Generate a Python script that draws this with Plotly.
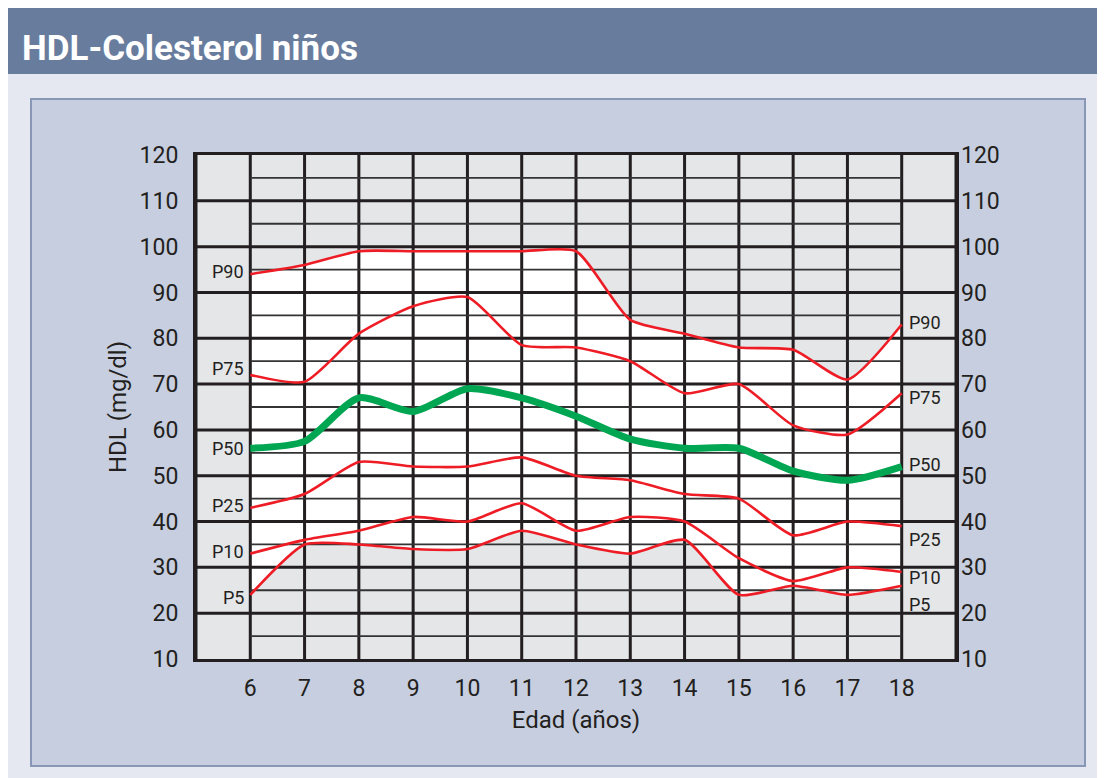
import plotly.graph_objects as go

# Datos: percentiles de HDL-colesterol en niños por edad
edades = [6, 7, 8, 9, 10, 11, 12, 13, 14, 15, 16, 17, 18]
p90 = [94, 96, 99, 99, 99, 99, 99, 84, 81, 78, 77.5, 71, 83]
p75 = [72, 70.5, 81, 87, 89, 78.5, 78, 75, 68, 70, 61, 59, 68]
p50 = [56, 57.5, 67, 64, 69, 67, 63, 58, 56, 56, 51, 49, 52]
p25 = [43, 46, 53, 52, 52, 54, 50, 49, 46, 45, 37, 40, 39]
p10 = [33, 36, 38, 41, 40, 44, 38, 41, 40, 32, 27, 30, 29]
p5 = [24, 35, 35, 34, 34, 38, 35, 33, 36, 24, 26, 24, 26]

nombres = ['P90', 'P75', 'P50', 'P25', 'P10', 'P5']
etiq_izq_y = [94.5, 73.5, 56, 43.5, 33.5, 23.5]
etiq_der_y = [83.5, 67, 52.5, 36, 27.7, 22]

y_ticks = list(range(10, 121, 10))
x_ticks = edades

FUENTE = 'Roboto, Liberation Sans, sans-serif'
ROJO = '#ee1c25'
VERDE = '#00a651'
NEGRO = '#231f20'

# la pagina pone la figura 8 px a la derecha y abajo
OFF = 8
L, R, T, B = 196 - OFF, 956 - OFF, 155 - OFF, 659 - OFF


def px(x):
    return (x - OFF - L) / (R - L)


def py(y):
    return (B - (y - OFF)) / (B - T)


fig = go.Figure()

# zona blanca entre P5 y P90
fig.add_trace(go.Scatter(x=edades, y=p5, mode='lines', line=dict(width=0, shape='spline', smoothing=0.6),
                         hoverinfo='skip', showlegend=False))
fig.add_trace(go.Scatter(x=edades, y=p90, mode='lines', line=dict(width=0, shape='spline', smoothing=0.6),
                         fill='tonexty', fillcolor='white', hoverinfo='skip', showlegend=False))

# cuadricula
xmin, xmax = 5, 19
gx, gy = [], []
for v in range(xmin, xmax + 1):
    gx += [v, v, None]
    gy += [10, 120, None]
for v in y_ticks[1:-1]:
    gx += [xmin, xmax, None]
    gy += [v, v, None]
fig.add_trace(go.Scatter(x=gx, y=gy, mode='lines', line=dict(color=NEGRO, width=3),
                         hoverinfo='skip', showlegend=False))
mx, my = [], []
for v in range(15, 120, 10):
    mx += [edades[0], edades[-1], None]
    my += [v, v, None]
fig.add_trace(go.Scatter(x=mx, y=my, mode='lines', line=dict(color='#333333', width=1.8),
                         hoverinfo='skip', showlegend=False))

# curvas
for nombre, serie in zip(nombres, [p90, p75, p50, p25, p10, p5]):
    if nombre == 'P50':
        continue
    fig.add_trace(go.Scatter(x=edades, y=serie, mode='lines', name=nombre,
                             line=dict(color=ROJO, width=2.6, shape='spline', smoothing=0.6),
                             showlegend=False))
fig.add_trace(go.Scatter(x=edades, y=p50, mode='lines', name='P50',
                         line=dict(color=VERDE, width=7, shape='spline', smoothing=0.7),
                         showlegend=False))
# eje derecho
fig.add_trace(go.Scatter(x=[edades[0]], y=[p50[0]], yaxis='y2', mode='lines',
                         line=dict(width=0), hoverinfo='skip', showlegend=False))

anotaciones = []
for nombre, yi, yd in zip(nombres, etiq_izq_y, etiq_der_y):
    anotaciones.append(dict(x=edades[0], y=yi, text=nombre, showarrow=False, xanchor='right',
                            xshift=-4, font=dict(size=18, color=NEGRO, family=FUENTE)))
    anotaciones.append(dict(x=edades[-1], y=yd, text=nombre, showarrow=False, xanchor='left',
                            xshift=5, font=dict(size=18, color=NEGRO, family=FUENTE)))
anotaciones.append(dict(xref='paper', yref='paper', x=px(20), y=py(48), text='<b>HDL-Colesterol niños</b>',
                        showarrow=False, xanchor='left', yanchor='middle',
                        font=dict(size=35, color='white', family=FUENTE)))

fondos = [
    dict(type='rect', xref='paper', yref='paper', x0=px(0), x1=px(1120), y0=py(0), y1=py(800),
         fillcolor='#e5e8f0', line=dict(width=0), layer='below'),
    dict(type='rect', xref='paper', yref='paper', x0=px(0), x1=px(1120), y0=py(0), y1=py(74),
         fillcolor='#687d9e', line=dict(width=0), layer='below'),
    dict(type='rect', xref='paper', yref='paper', x0=px(31), x1=px(1085), y0=py(99), y1=py(766),
         fillcolor='#c6cedf', line=dict(color='#8797b5', width=2), layer='below'),
    dict(type='rect', xref='paper', yref='paper', x0=0, x1=1, y0=0, y1=1,
         fillcolor='#e5e6e8', line=dict(width=0), layer='below'),
]

eje_y = dict(range=[10, 120], tickvals=y_ticks, showgrid=False, zeroline=False,
             tickfont=dict(size=23, color=NEGRO, family=FUENTE), ticks='')

fig.update_layout(
    width=1105, height=778,
    margin=dict(l=L, r=1105 - R, t=T, b=778 - B),
    paper_bgcolor='#e5e8f0',
    plot_bgcolor='#e5e6e8',
    shapes=fondos,
    annotations=anotaciones,
    xaxis=dict(range=[xmin, xmax], tickvals=x_ticks, showgrid=False, zeroline=False,
               showline=True, linecolor=NEGRO, linewidth=3, mirror=True, ticks='',
               ticklabelstandoff=6,
               tickfont=dict(size=23, color=NEGRO, family=FUENTE),
               title=dict(text='Edad (años)', font=dict(size=24, color=NEGRO, family=FUENTE), standoff=11)),
    yaxis=dict(**eje_y, showline=True, linecolor=NEGRO, linewidth=3, mirror=True,
               ticklabelstandoff=10,
               title=dict(text='HDL (mg/dl)', font=dict(size=24, color=NEGRO, family=FUENTE), standoff=7)),
    yaxis2=dict(**eje_y, overlaying='y', side='right', showline=False, ticklabelstandoff=4),
)

fig.write_html("out.html")
